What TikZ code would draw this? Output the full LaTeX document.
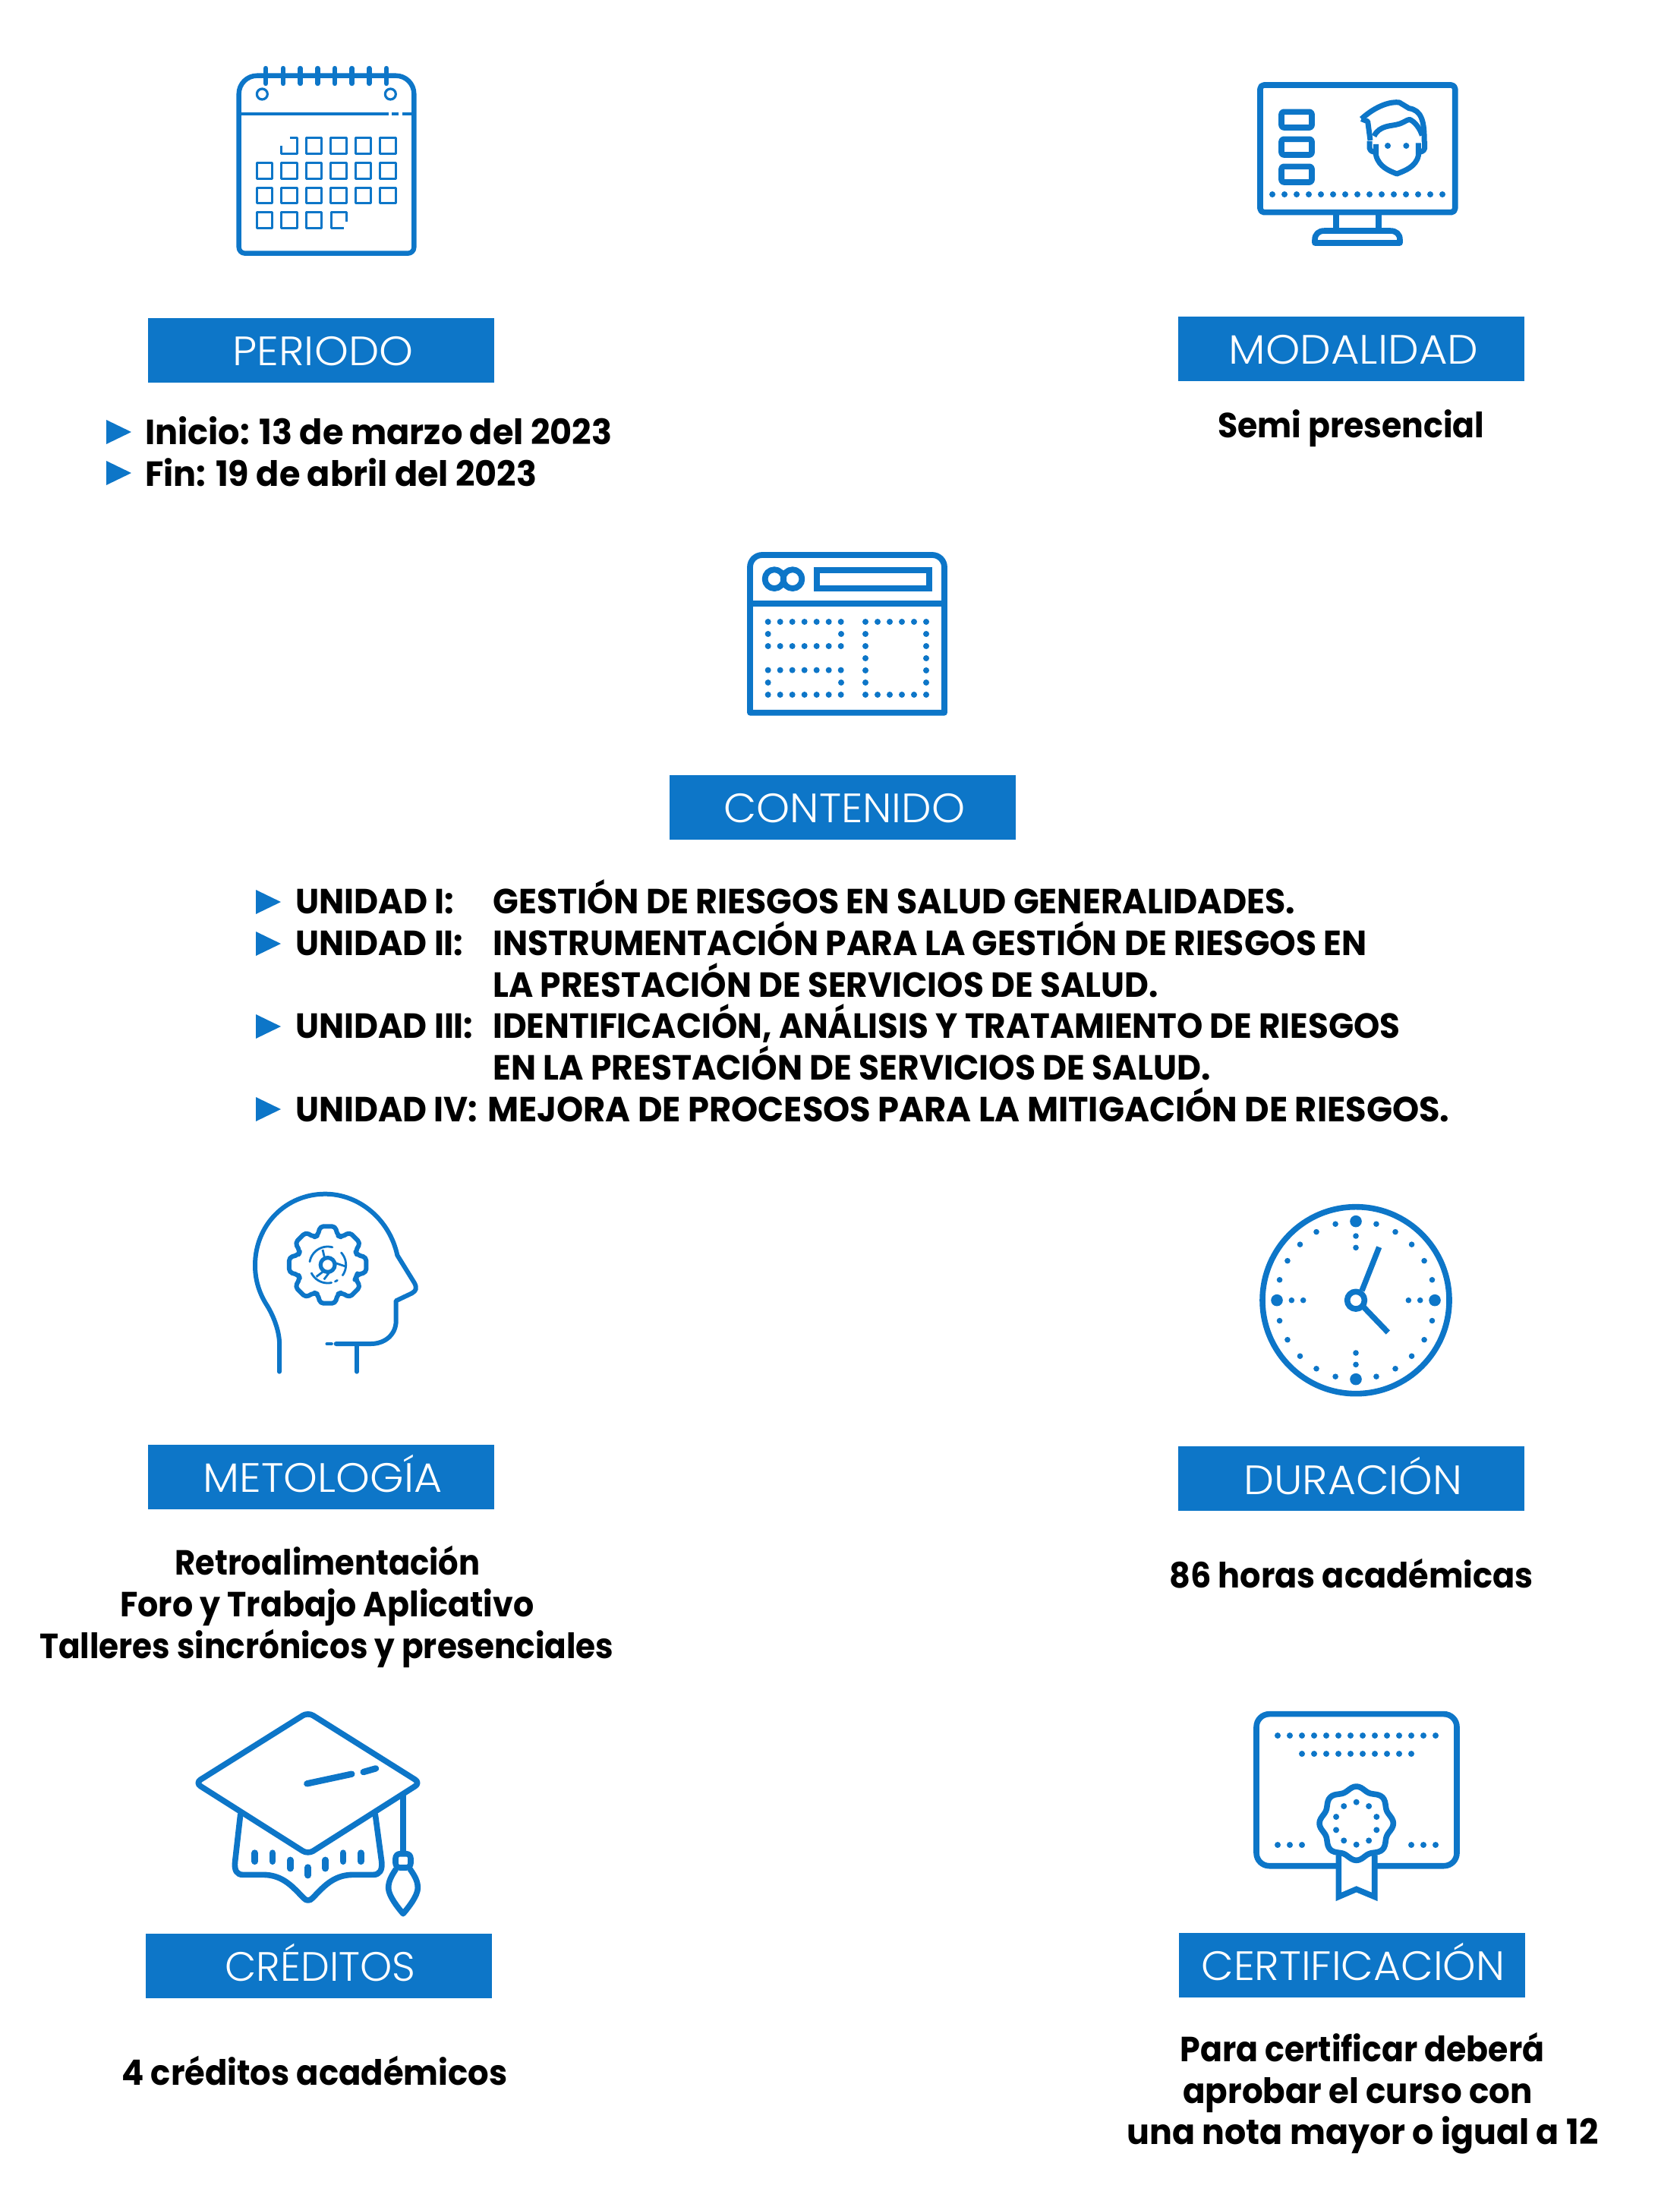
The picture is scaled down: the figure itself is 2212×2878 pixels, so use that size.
\documentclass[tikz,border=0pt]{standalone}
\usepackage{fontspec}
\usepackage{graphicx}
\setmainfont{Poppins}
\newfontfamily\lightfont{Poppins}[UprightFont=* Light]
\definecolor{brand}{HTML}{0D76C8}
\newcommand\fitw[2]{\resizebox{\dimexpr#1pt/2\relax}{\height}{#2}}
\tikzset{
  icon/.style 2 args={shift={(#1,#2)},x=0.1666667pt,y=-0.1666667pt,color=brand},
  banner/.style={fill=brand,draw=none,inner sep=0pt,outer sep=0pt},
  titletxt/.style={text=white,anchor=base west,inner sep=0pt,font=\lightfont\fontsize{27}{27}\selectfont},
  body/.style={text=black,anchor=base west,inner sep=0pt,font=\bfseries\fontsize{23}{23}\selectfont},
  bullet/.style={fill=brand,draw=none},
}
\newcommand\bulletat[2]{\fill[bullet] (#1,#2) -- (#1+33,#2+16) -- (#1,#2+32) -- cycle;}
\begin{document}
\begin{tikzpicture}[x=0.5pt,y=-0.5pt,line join=round]
\useasboundingbox (0,0) rectangle (2212,2878);
\fill[white] (0,0) rectangle (2212,2878);

% ---------- banners
\fill[banner] (195,419) rectangle (651,504);
\fill[banner] (1552,417) rectangle (2008,502);
\fill[banner] (882,1021) rectangle (1338,1106);
\fill[banner] (195,1903) rectangle (651,1988);
\fill[banner] (1552,1905) rectangle (2008,1990);
\fill[banner] (192,2547) rectangle (648,2632);
\fill[banner] (1553,2546) rectangle (2009,2631);
\node[titletxt] (tperiodo) at (306,481) {\fitw{238}{PERIODO}};
\node[titletxt] (tmodalidad) at (1618,480) {\fitw{329}{MODALIDAD}};
\node[titletxt] (tcontenido) at (953,1083) {\fitw{318}{CONTENIDO}};
\node[titletxt] (tmetologia) at (267,1965) {\fitw{315}{METOLOGÍA}};
\node[titletxt] (tduracion) at (1638,1968) {\fitw{288}{DURACIÓN}};
\node[titletxt] (tcreditos) at (296,2609) {\fitw{251}{CRÉDITOS}};
\node[titletxt] (tcertificacion) at (1582,2608) {\fitw{400}{CERTIFICACIÓN}};

% ---------- body text
\bulletat{140}{553}
\bulletat{140}{607}
\node[body] (b1) at (191,585) {\fitw{615}{Inicio: 13 de marzo del 2023}};
\node[body] (b2) at (191,640) {\fitw{516}{Fin: 19 de abril del 2023}};
\node[body] (b3) at (1604,576) {\fitw{351}{Semi presencial}};

\bulletat{337}{1172}
\bulletat{337}{1227}
\bulletat{337}{1336}
\bulletat{337}{1445}
\node[body] (u1) at (389,1203) {\fitw{209}{UNIDAD I:}};
\node[body] (u2) at (389,1258) {\fitw{221}{UNIDAD II:}};
\node[body] (u3) at (389,1367) {\fitw{234}{UNIDAD III:}};
\node[body] (u4) at (389,1477) {\fitw{240}{UNIDAD IV:}};
\node[body] (c1) at (649,1203) {\fitw{1057}{GESTIÓN DE RIESGOS EN SALUD GENERALIDADES.}};
\node[body] (c2) at (649,1258) {\fitw{1151}{INSTRUMENTACIÓN PARA LA GESTIÓN DE RIESGOS EN}};
\node[body] (c3) at (649,1313) {\fitw{876}{LA PRESTACIÓN DE SERVICIOS DE SALUD.}};
\node[body] (c4) at (649,1367) {\fitw{1195}{IDENTIFICACIÓN, ANÁLISIS Y TRATAMIENTO DE RIESGOS}};
\node[body] (c5) at (649,1422) {\fitw{945}{EN LA PRESTACIÓN DE SERVICIOS DE SALUD.}};
\node[body] (c6) at (642,1477) {\fitw{1267}{MEJORA DE PROCESOS PARA LA MITIGACIÓN DE RIESGOS.}};

\node[body] (m1) at (230,2074) {\fitw{402}{Retroalimentación}};
\node[body] (m2) at (158,2129) {\fitw{545}{Foro y Trabajo Aplicativo}};
\node[body] (m3) at (52,2184) {\fitw{756}{Talleres sincrónicos y presenciales}};
\node[body] (d1) at (1540,2091) {\fitw{479}{86 horas académicas}};
\node[body] (k1) at (160,2746) {\fitw{508}{4 créditos académicos}};
\node[body] (e1) at (1554,2715) {\fitw{480}{Para certificar deberá}};
\node[body] (e2) at (1558,2770) {\fitw{460}{aprobar el curso con}};
\node[body] (e3) at (1484,2824) {\fitw{621}{una nota mayor o igual a 12}};

% ---------- calendar
\begin{scope}[icon={280}{60}]
  \draw[line width=3.2pt] (104,400) [rounded corners=12pt] -- (104,119) -- (796,119) -- (796,400) [rounded corners=4pt] -- (796,821) -- (104,821) -- cycle;
  \foreach \x in {210,279,347,415,483,551,619,687}
    \draw[line width=3.2pt,line cap=round] (\x,90) -- (\x,150);
  \draw[line width=1.6pt] (196,192) circle[radius=3.5pt];
  \draw[line width=1.6pt] (703,192) circle[radius=3.5pt];
  \draw[line width=1.6pt] (108,270) -- (695,270);
  \draw[line width=1.6pt] (708,270) -- (736,270);
  \draw[line width=1.6pt] (750,270) -- (792,270);
  \draw[line width=1.5pt] (272,395) -- (272,428) -- (335,428) -- (335,365) -- (305,365);
  \foreach \x in {400,497,595,692} \draw[line width=1.5pt] (\x-31,366) rectangle (\x+31,428);
  \foreach \y in {494,592} \foreach \x in {205,303,400,497,595,692}
    \draw[line width=1.5pt] (\x-31,\y-31) rectangle (\x+31,\y+31);
  \foreach \x in {205,303,400} \draw[line width=1.5pt] (\x-31,658) rectangle (\x+31,720);
  \draw[line width=1.5pt] (530,695) -- (530,658) -- (468,658) -- (468,720) -- (520,720);
\end{scope}

% ---------- monitor
\begin{scope}[icon={1620}{80}]
  \draw[line width=3.8pt,rounded corners=2.5pt] (120,96) rectangle (890,599);
  \foreach \y in {233,341,449}
    \draw[line width=3.8pt,rounded corners=1.5pt] (204,\y-31) rectangle (324,\y+31);
  \foreach \x in {168,216,...,840} \fill (\x,528) circle[radius=2pt];
  \draw[line width=3.8pt] (420,599) -- (420,672);
  \draw[line width=3.8pt] (588,599) -- (588,672);
  \draw[line width=3.8pt] (336,720) -- (336,708) .. controls (336,685) and (350,672) .. (375,672) -- (633,672) .. controls (658,672) and (672,685) .. (672,708) -- (672,720) -- cycle;
  \draw[line width=3.5pt] (520,230) .. controls (580,175) and (640,160) .. (670,165) -- (708,188) .. controls (755,195) and (770,235) .. (768,320);
  \draw[line width=3.5pt] (520,230) -- (545,240) -- (555,315);
  \draw[line width=3.5pt] (570,298) .. controls (590,255) and (640,258) .. (660,252) .. controls (685,247) and (695,235) .. (710,232) .. controls (730,240) and (750,265) .. (760,295);
  \draw[line width=3.5pt] (578,330) -- (578,375) .. controls (590,420) and (630,435) .. (660,447) .. controls (690,435) and (735,420) .. (745,375) -- (745,325);
  \draw[line width=3.5pt] (552,318) -- (552,345) .. controls (555,358) and (565,360) .. (578,362);
  \draw[line width=3.5pt] (770,318) -- (770,345) .. controls (767,358) and (757,360) .. (745,362);
  \fill (624,336) circle[radius=2pt];
  \fill (697,336) circle[radius=2pt];
\end{scope}

% ---------- browser window
\begin{scope}[icon={960}{700}]
  \draw[line width=3.9pt] (84,400) [rounded corners=8pt] -- (84,93) -- (852,93) -- (852,400) [sharp corners] -- (852,716) -- (84,716) -- cycle;
  \draw[line width=3.9pt] (84,285) -- (852,285);
  \draw[line width=3.9pt] (180,188) circle[radius=6.2pt];
  \draw[line width=3.9pt] (252,188) circle[radius=6.2pt];
  \draw[line width=3.9pt,line join=miter] (347,152) rectangle (792,225);
  \foreach \y in {357,453,548,645} \foreach \x in {155,203,...,444} \fill (\x,\y) circle[radius=2pt];
  \foreach \y in {405,597} { \fill (155,\y) circle[radius=2pt]; \fill (444,\y) circle[radius=2pt]; }
  \foreach \x in {540,588,636,684,732,780} { \fill (\x,357) circle[radius=2pt]; \fill (\x,645) circle[radius=2pt]; }
  \foreach \y in {405,453,501,549,597} { \fill (540,\y) circle[radius=2pt]; \fill (780,\y) circle[radius=2pt]; }
\end{scope}

% ---------- head with gear
\begin{scope}[icon={310}{1540}]
  \draw[line width=3pt,line cap=round] (174,800) -- (174,680) .. controls (170,620) and (140,560) .. (120,530) .. controls (90,480) and (78,430) .. (78,380) .. controls (78,220) and (200,98) .. (355,98) .. controls (490,98) and (610,200) .. (640,340) -- (708,450) .. controls (718,470) and (715,480) .. (698,490) -- (635,520) -- (635,600) .. controls (635,650) and (595,690) .. (535,690) -- (398,690);
  \draw[line width=2.2pt,line cap=round] (362,690) -- (380,690);
  \draw[line width=3pt,line cap=round] (480,690) -- (480,800);
  \begin{scope}[shift={(365,378)}]
    \draw[line width=3pt,rounded corners=2.2pt] (22.5:122) \foreach \a in {45,90,...,360} { -- (\a-19:122) -- (\a-11:155) -- (\a+11:155) -- (\a+19:122) } -- cycle;
    \draw[line width=2.6pt] (0,0) circle[radius=4.7pt];
    \draw[line width=1.4pt,line cap=round] plot[domain=78:153,samples=16] (\x:72);
    \draw[line width=1.4pt,line cap=round] plot[domain=58:66,samples=4] (\x:72);
    \draw[line width=1.4pt,line cap=round] plot[domain=-42:35,samples=16] (\x:72);
    \draw[line width=1.4pt,line cap=round] plot[domain=190:285,samples=16] (\x:72);
    \draw[line width=1.4pt] (-20,-60) -- (-12,-26);
    \draw[line width=1.4pt] (28,-8) -- (70,6);
    \draw[line width=1.4pt] (-45,47) -- (-20,28);
    \draw[line width=1.4pt] (-15,58) -- (5,32);
  \end{scope}
\end{scope}

% ---------- clock
\begin{scope}[icon={1630}{1560}]
  \draw[line width=3.8pt] (468,458) circle[radius=61.5pt];
  \draw[line width=3.8pt] (468,458) circle[radius=5.7pt];
  \begin{scope}[shift={(468,458)}]
    \foreach \a in {15,30,60,75,105,120,150,165,195,210,240,255,285,300,330,345,45,135,225,315}
      \fill (\a:312) circle[radius=1.9pt];
    \foreach \a in {0,90,180,270} {
      \fill (\a:312) circle[radius=3.9pt];
      \fill (\a:254) circle[radius=1.9pt];
      \fill (\a:208) circle[radius=1.9pt];
    }
    \draw[line width=3.7pt] (24,-38) -- (92,-210);
    \draw[line width=3.7pt] (30,26) -- (127,127);
  \end{scope}
\end{scope}

% ---------- graduation cap
\begin{scope}[icon={240}{2230}]
  \draw[line width=3.8pt,rounded corners=4pt] (497,76) -- (941,355) -- (497,637) -- (52,355) -- cycle;
  \draw[line width=3.8pt,line cap=round] (230,480) -- (209,665) .. controls (205,700) and (215,718) .. (240,718) -- (320,718) .. controls (400,718) and (440,770) .. (480,810) .. controls (490,822) and (505,822) .. (515,810) .. controls (555,770) and (595,718) .. (675,718) -- (755,718) .. controls (780,718) and (792,700) .. (788,665) -- (763,480);
  \draw[line width=3.8pt] (873,405) -- (873,635);
  \draw[line width=3.8pt,rounded corners=3pt] (843,635) rectangle (903,690);
  \draw[line width=3.8pt] (845,695) .. controls (825,725) and (815,745) .. (815,770) .. controls (815,800) and (850,845) .. (873,872) .. controls (896,845) and (931,800) .. (931,770) .. controls (931,745) and (921,725) .. (900,695);
  \draw[line width=4.2pt,line cap=round] (493,358) -- (670,320);
  \draw[line width=4.2pt,line cap=round] (716,312) -- (765,298);
  \foreach \x in {287,357,636,706} \draw[line width=4.4pt,line cap=round] (\x,632) -- (\x,665);
  \foreach \x in {427,566} \draw[line width=4.4pt,line cap=round] (\x,660) -- (\x,693);
  \draw[line width=4.4pt,line cap=round] (497,689) -- (497,720);
\end{scope}

% ---------- certificate
\begin{scope}[icon={1620}{2230}]
  \draw[line width=3.8pt] (430,683) [rounded corners=8.5pt] -- (105,683) -- (105,83) -- (897,83) -- (897,683) -- (572,683);
  \foreach \x in {189,237,...,813} \fill (\x,168) circle[radius=2pt];
  \foreach \x in {285,333,...,717} \fill (\x,240) circle[radius=2pt];
  \foreach \x in {189,237,285,717,765,813} \fill (\x,600) circle[radius=2pt];
  \begin{scope}[shift={(500,515)}]
    \draw[line width=3.8pt,smooth] plot[domain=0:360,samples=97] (\x:{138+8*cos(8*\x)}) -- cycle;
    \foreach \a in {90,270} \fill (\a:84) circle[radius=2pt];
    \foreach \a in {54,126,234,306} \fill (\a:84) circle[radius=2pt];
    \foreach \a in {18,162,198,342} \fill (\a:84) circle[radius=2pt];
  \end{scope}
  \draw[line width=3.8pt,line join=miter] (430,640) -- (430,805) -- (500,775) -- (572,805) -- (572,640);
\end{scope}
\end{tikzpicture}
\end{document}
